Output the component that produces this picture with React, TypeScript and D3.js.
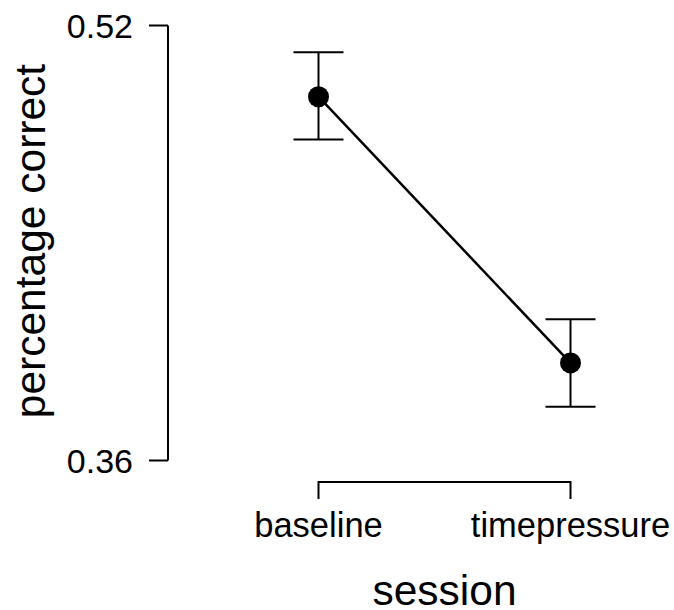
import React, { useRef, useEffect } from 'react';
import * as d3 from 'd3';

const sessions = ['baseline', 'timepressure'];
const means = [0.4938, 0.3959];
const lower = [0.4781, 0.3798];
const upper = [0.5102, 0.412];
const yTicks = [0.36, 0.52];

const W = 674;
const H = 610;

const App = () => {
  const svgRef = useRef<SVGSVGElement>(null);

  useEffect(() => {
    const svg = d3.select(svgRef.current);
    svg.selectAll('*').remove();

    const font = 'Liberation Sans, Arial, sans-serif';

    const x = d3.scalePoint<string>().domain(sessions).range([318.5, 570.5]);
    const y = d3.scaleLinear().domain([0.36, 0.52]).range([460.5, 25.5]);

    // y axis (R-style: line spans only tick range)
    const yAxisX = 168;
    const yAxis = svg.append('g').attr('stroke', '#000').attr('stroke-width', 2);
    yAxis.append('line')
      .attr('x1', yAxisX).attr('x2', yAxisX)
      .attr('y1', y(0.52)).attr('y2', y(0.36));
    yTicks.forEach(t => {
      yAxis.append('line')
        .attr('x1', yAxisX).attr('x2', yAxisX - 19)
        .attr('y1', y(t)).attr('y2', y(t));
    });
    svg.append('g').selectAll('text')
      .data(yTicks)
      .enter().append('text')
      .attr('x', 133)
      .attr('y', d => y(d))
      .attr('dy', '0.36em')
      .attr('text-anchor', 'end')
      .attr('font-family', font)
      .attr('font-size', 34)
      .text(d => d.toFixed(2));

    // x axis bracket
    const xAxisY = 482;
    const xAxis = svg.append('g').attr('stroke', '#000').attr('stroke-width', 2).attr('fill', 'none');
    xAxis.append('path')
      .attr('d', `M${x('baseline')},${xAxisY + 17}V${xAxisY}H${x('timepressure')}V${xAxisY + 17}`);
    svg.append('g').selectAll('text')
      .data(sessions)
      .enter().append('text')
      .attr('x', d => x(d)!)
      .attr('y', 537)
      .attr('text-anchor', 'middle')
      .attr('font-family', font)
      .attr('font-size', 34.5)
      .text(d => d);

    // axis titles
    svg.append('text')
      .attr('x', 444.5)
      .attr('y', 605)
      .attr('text-anchor', 'middle')
      .attr('font-family', font)
      .attr('font-size', 42.5)
      .text('session');
    svg.append('text')
      .attr('transform', `translate(45,241) rotate(-90)`)
      .attr('text-anchor', 'middle')
      .attr('font-family', font)
      .attr('font-size', 42.5)
      .text('percentage correct');

    // line connecting means
    const line = d3.line<number>()
      .x((d, i) => x(sessions[i])!)
      .y(d => y(d));
    svg.append('path')
      .datum(means)
      .attr('fill', 'none')
      .attr('stroke', '#000')
      .attr('stroke-width', 2.5)
      .attr('d', line);

    // error bars
    const eb = svg.append('g').attr('stroke', '#000').attr('stroke-width', 2);
    sessions.forEach((s, i) => {
      const cx = x(s)!;
      eb.append('line').attr('x1', cx).attr('x2', cx).attr('y1', y(upper[i])).attr('y2', y(lower[i]));
      eb.append('line').attr('x1', cx - 25).attr('x2', cx + 25).attr('y1', y(upper[i])).attr('y2', y(upper[i]));
      eb.append('line').attr('x1', cx - 25).attr('x2', cx + 25).attr('y1', y(lower[i])).attr('y2', y(lower[i]));
    });

    // points
    svg.append('g').selectAll('circle')
      .data(means)
      .enter().append('circle')
      .attr('cx', (d, i) => x(sessions[i])!)
      .attr('cy', d => y(d))
      .attr('r', 10.5)
      .attr('fill', '#000');
  }, []);

  return (
    <svg
      ref={svgRef}
      width={W}
      height={H}
      style={{ position: 'absolute', left: 0, top: 0, display: 'block', background: '#fff' }}
    />
  );
};

export default App;
